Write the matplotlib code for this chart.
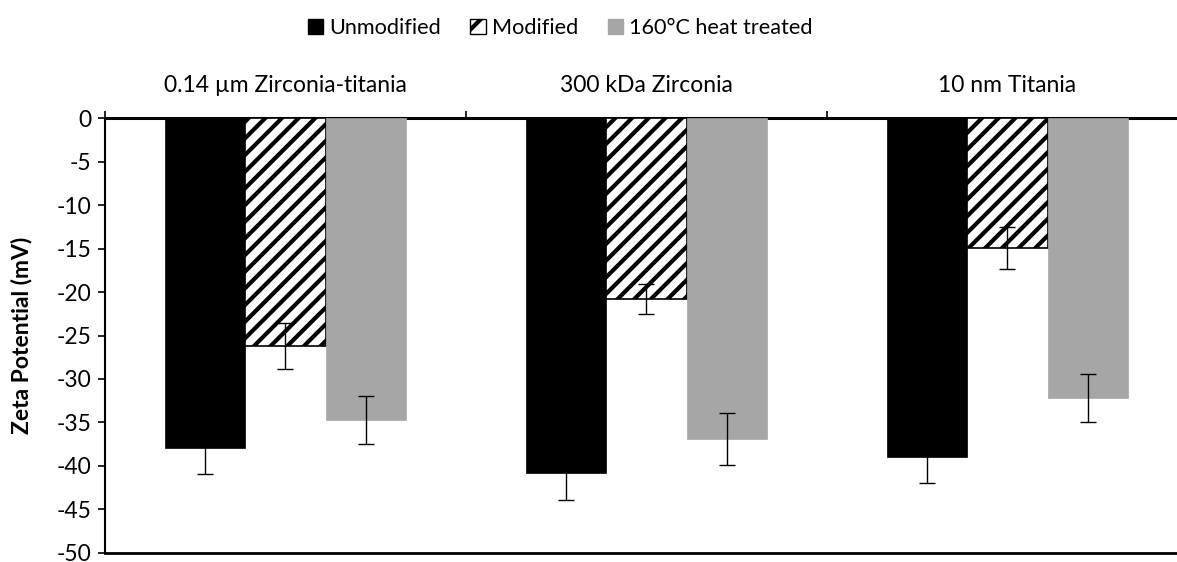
import matplotlib
matplotlib.use('Agg')
import matplotlib.pyplot as plt
import numpy as np
from matplotlib.patches import Patch

# data
categories = ['0.14 µm Zirconia-titania', '300 kDa Zirconia', '10 nm Titania']
series = ['Unmodified', 'Modified', '160°C heat treated']
unmodified = [-37.9, -40.8, -39.0]
modified = [-26.2, -20.8, -14.9]
heat_treated = [-34.7, -36.9, -32.2]
unmodified_err = [3.0, 3.1, 3.0]
modified_err = [2.65, 1.7, 2.4]
heat_treated_err = [2.75, 3.0, 2.75]
yticks = list(range(-50, 1, 5))

plt.rcParams['font.family'] = ['Lato', 'DejaVu Sans']
plt.rcParams['hatch.linewidth'] = 3.0
plt.rcParams['hatch.color'] = 'black'
fs = 16.5

fig = plt.figure(figsize=(11.77, 5.62), dpi=100)
# axes runs a bit past the right edge like the cropped original
ax = fig.add_axes([0.0892, 0.0165, 0.920, 0.773])

x = np.arange(len(categories))
w = 0.223
err_kw = dict(ecolor='black', elinewidth=1.0, capsize=6, capthick=1.0, zorder=4)

ax.bar(x - w, unmodified, w, color='black', edgecolor='black', linewidth=0.5,
       yerr=unmodified_err, error_kw=err_kw, zorder=3)
ax.bar(x, modified, w, color='white', edgecolor='black', linewidth=1.2, hatch='//',
       yerr=modified_err, error_kw=err_kw, zorder=3)
ax.bar(x + w, heat_treated, w, color='#a6a6a6', edgecolor='#a6a6a6', linewidth=0.5,
       yerr=heat_treated_err, error_kw=err_kw, zorder=3)

ax.set_xlim(-0.5, len(categories) - 0.5)
ax.set_ylim(-50, 0)
ax.set_yticks(yticks)
ax.set_yticklabels([str(t) for t in yticks], fontsize=fs)
ax.tick_params(axis='y', direction='out', length=5, width=1.2, pad=5)

# category labels sit above the zero line
ax.xaxis.tick_top()
ax.set_xticks(x)
ax.set_xticklabels(categories, fontsize=fs)
ax.set_xticks(np.arange(len(categories) + 1) - 0.5, minor=True)
ax.tick_params(axis='x', which='major', length=0, pad=16)
ax.tick_params(axis='x', which='minor', direction='out', length=5, width=1.2)

ax.spines['top'].set_linewidth(2.2)
ax.spines['left'].set_linewidth(1.5)
ax.spines['bottom'].set_linewidth(2.0)
ax.spines['right'].set_visible(False)

ax.set_ylabel('Zeta Potential (mV)', fontsize=fs, fontweight='bold')
ax.yaxis.set_label_coords(-0.067, 0.5)

handles = [Patch(facecolor='black', edgecolor='black'),
           Patch(facecolor='white', edgecolor='black', hatch='/'),
           Patch(facecolor='#a6a6a6', edgecolor='#a6a6a6')]
fig.legend(handles, series, loc='center', bbox_to_anchor=(0.476, 0.950), ncol=3,
           frameon=False, fontsize=15.6, handlelength=0.7, handleheight=0.7,
           handletextpad=0.3, columnspacing=1.35)

fig.savefig('out.png', dpi=100)
